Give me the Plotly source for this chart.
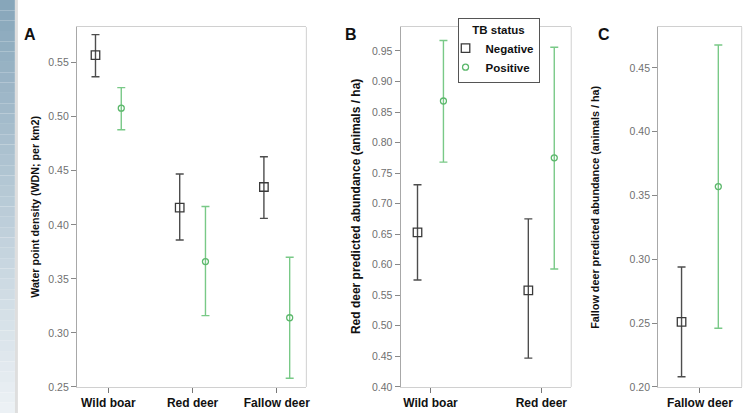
import plotly.graph_objects as go

W, H = 747, 419

# ---------------- data ----------------
a_categories = ["Wild boar", "Red deer", "Fallow deer"]
a_neg_mean = [0.557, 0.416, 0.435]
a_neg_low = [0.537, 0.386, 0.406]
a_neg_high = [0.576, 0.447, 0.463]
a_pos_mean = [0.508, 0.366, 0.314]
a_pos_low = [0.488, 0.316, 0.258]
a_pos_high = [0.527, 0.417, 0.370]

b_categories = ["Wild boar", "Red deer"]
b_neg_mean = [0.653, 0.558]
b_neg_low = [0.575, 0.447]
b_neg_high = [0.731, 0.675]
b_pos_mean = [0.868, 0.775]
b_pos_low = [0.768, 0.593]
b_pos_high = [0.967, 0.956]

c_categories = ["Fallow deer"]
c_neg_mean = [0.251]
c_neg_low = [0.208]
c_neg_high = [0.294]
c_pos_mean = [0.357]
c_pos_low = [0.246]
c_pos_high = [0.468]

a_title = "Water point density (WDN; per km2)"
b_title = "Red deer predicted abundance (animals / ha)"
c_title = "Fallow deer predicted abundance (animals / ha)"

# ---------------- style ----------------
NEG_COLOR = "#3a3a3a"
NEG_BAR = "#4d4d4d"
POS_COLOR = "#5cb86c"
POS_BAR = "#79c987"
FONT = "Liberation Sans, Arial, sans-serif"


def px_x(x):
    return x / W


def px_y(y):
    return 1 - y / H


fig = go.Figure()


def add_panel(idx, cats, nm, nl, nh, pm, pl, ph, offset, show_legend):
    xs = list(range(len(cats)))
    xa = "x" if idx == 1 else f"x{idx}"
    ya = "y" if idx == 1 else f"y{idx}"
    fig.add_trace(go.Scatter(
        x=[v - offset for v in xs], y=nm, mode="markers", name="Negative",
        legendgroup="neg", showlegend=show_legend,
        marker=dict(symbol="square-open", size=8.5, color=NEG_COLOR,
                    line=dict(width=1.3, color=NEG_COLOR)),
        error_y=dict(type="data", symmetric=False,
                     array=[h - m for h, m in zip(nh, nm)],
                     arrayminus=[m - l for m, l in zip(nm, nl)],
                     color=NEG_BAR, thickness=1.4, width=4),
        xaxis=xa, yaxis=ya,
    ))
    fig.add_trace(go.Scatter(
        x=[v + offset for v in xs], y=pm, mode="markers", name="Positive",
        legendgroup="pos", showlegend=show_legend,
        marker=dict(symbol="circle-open", size=6, color=POS_COLOR,
                    line=dict(width=1.3, color=POS_COLOR)),
        error_y=dict(type="data", symmetric=False,
                     array=[h - m for h, m in zip(ph, pm)],
                     arrayminus=[m - l for m, l in zip(pm, pl)],
                     color=POS_BAR, thickness=1.4, width=4),
        xaxis=xa, yaxis=ya,
    ))


add_panel(1, a_categories, a_neg_mean, a_neg_low, a_neg_high,
          a_pos_mean, a_pos_low, a_pos_high, 0.153, True)
add_panel(2, b_categories, b_neg_mean, b_neg_low, b_neg_high,
          b_pos_mean, b_pos_low, b_pos_high, 0.117, False)
add_panel(3, c_categories, c_neg_mean, c_neg_low, c_neg_high,
          c_pos_mean, c_pos_low, c_pos_high, 0.22, False)

top_px, bot_px = 27.5, 392.5
ydom = [px_y(bot_px), px_y(top_px)]

panels = [
    # (left px, right px, xrange, yrange, categories)
    (77.3, 308.0, [-0.374, 2.351], [0.25, 0.583], a_categories),
    (402.7, 574.3, [-0.27, 1.27], [0.40, 0.989], b_categories),
    (661.7, 745.7, [-0.5, 0.5], [0.20, 0.482], c_categories),
]

layout = {}
for i, (l, r, xr, yr, cats) in enumerate(panels, start=1):
    sx = "xaxis" if i == 1 else f"xaxis{i}"
    sy = "yaxis" if i == 1 else f"yaxis{i}"
    anchor_y = "y" if i == 1 else f"y{i}"
    anchor_x = "x" if i == 1 else f"x{i}"
    layout[sx] = dict(
        domain=[px_x(l), px_x(r)], range=xr, anchor=anchor_y,
        tickmode="array", tickvals=list(range(len(cats))), ticktext=cats,
        ticks="outside", ticklen=5, tickcolor="#777", tickwidth=1,
        showgrid=False, zeroline=False,
        showline=True, linecolor="#d0d0d0", linewidth=1, mirror=True,
        tickfont=dict(family=FONT, size=12, color="#111", weight="bold"),
        fixedrange=True,
    )
    layout[sy] = dict(
        domain=ydom, range=yr, anchor=anchor_x,
        dtick=0.05, tick0=0, tickformat=".2f",
        ticks="outside", ticklen=5, tickcolor="#888", tickwidth=1,
        showgrid=False, zeroline=False,
        showline=True, linecolor="#a8a8a8", linewidth=1,
        tickfont=dict(family=FONT, size=10.5, color="#707070"),
        fixedrange=True,
    )

shapes = []
# left decorative gradient strip
n = 40
c_top = (135, 166, 186)
c_bot = (236, 241, 245)
for k in range(n):
    t = k / (n - 1)
    col = tuple(int(round(c_top[j] + (c_bot[j] - c_top[j]) * t)) for j in range(3))
    shapes.append(dict(type="rect", xref="paper", yref="paper",
                       x0=0, x1=px_x(15), y0=1 - (k + 1) / n, y1=1 - k / n,
                       fillcolor=f"rgb{col}", line=dict(width=0), layer="below"))
shapes.append(dict(type="rect", xref="paper", yref="paper",
                   x0=px_x(15), x1=px_x(18), y0=0, y1=1,
                   fillcolor="#dedede", line=dict(width=0), layer="below"))
# right border of each plot frame
for i in (1, 2, 3):
    xr = "x domain" if i == 1 else f"x{i} domain"
    yr = "y domain" if i == 1 else f"y{i} domain"
    shapes.append(dict(type="line", xref=xr, yref=yr, x0=1, x1=1, y0=0, y1=1,
                       line=dict(color="#d0d0d0", width=1)))

annotations = []
for letter, xp in (("A", 30), ("B", 353), ("C", 607)):
    annotations.append(dict(text=f"<b>{letter}</b>", x=px_x(xp), y=px_y(35),
                            xref="paper", yref="paper", showarrow=False,
                            xanchor="center", yanchor="middle",
                            font=dict(family=FONT, size=16, color="#111")))
for title, xp, size in ((a_title, 35, 10.7), (b_title, 358, 12), (c_title, 598, 10.8)):
    annotations.append(dict(text=f"<b>{title}</b>", x=px_x(xp), y=px_y(210),
                            xref="paper", yref="paper", showarrow=False,
                            textangle=-90, xanchor="center", yanchor="middle",
                            font=dict(family=FONT, size=size, color="#111")))

fig.update_layout(
    width=W, height=H,
    margin=dict(l=0, r=0, t=0, b=0),
    paper_bgcolor="white", plot_bgcolor="white",
    showlegend=True,
    legend=dict(
        x=px_x(460), y=px_y(18), xanchor="left", yanchor="top",
        bgcolor="white", bordercolor="#555", borderwidth=1,
        title=dict(text="<b>TB status</b>", side="top center",
                   font=dict(family=FONT, size=11.5, color="#111")),
        font=dict(family=FONT, size=11.5, color="#111", weight="bold"),
        itemwidth=30, indentation=-13, tracegroupgap=0,
        itemclick=False, itemdoubleclick=False,
    ),
    shapes=shapes,
    annotations=annotations,
    **layout,
)

fig.write_html(
    "out.html",
    config={"displayModeBar": False},
    post_script="document.body.style.margin='0';document.body.style.padding='0';",
)
